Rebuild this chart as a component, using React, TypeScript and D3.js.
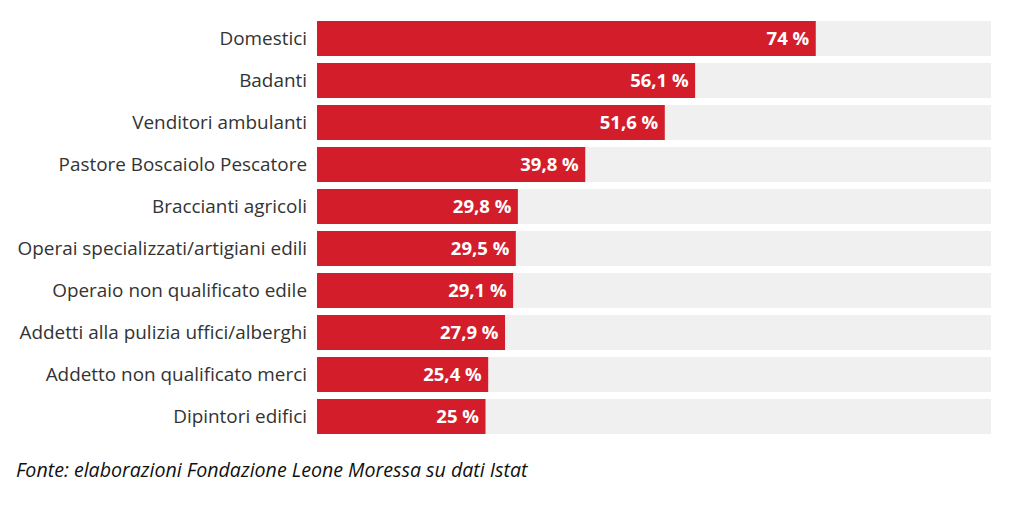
import React from "react";
import * as d3 from "d3";

const categories = [
  "Domestici",
  "Badanti",
  "Venditori ambulanti",
  "Pastore Boscaiolo Pescatore",
  "Braccianti agricoli",
  "Operai specializzati/artigiani edili",
  "Operaio non qualificato edile",
  "Addetti alla pulizia uffici/alberghi",
  "Addetto non qualificato merci",
  "Dipintori edifici",
];
const values = [74, 56.1, 51.6, 39.8, 29.8, 29.5, 29.1, 27.9, 25.4, 25];
const valueLabels = ["74 %", "56,1 %", "51,6 %", "39,8 %", "29,8 %", "29,5 %", "29,1 %", "27,9 %", "25,4 %", "25 %"];
const source = "Fonte: elaborazioni Fondazione Leone Moressa su dati Istat";

const W = 1024;
const H = 509;

export default function App() {
  const x = d3.scaleLinear().domain([0, 100]).range([317, 991]);
  const y = d3.scaleBand<string>().domain(categories).range([21, 434]).paddingInner(7 / 42).paddingOuter(0);
  const bw = y.bandwidth();
  const font = "'Open Sans', 'Noto Sans', sans-serif";
  return (
    <svg width={W} height={H} style={{ position: "absolute", left: 0, top: 0, background: "#fff" }}>
      {categories.map((c, i) => (
        <g key={c}>
          <rect x={x(0)} y={y(c)} width={x(100) - x(0)} height={bw} fill="#f0f0f0" />
          <rect x={x(0)} y={y(c)} width={x(values[i]) - x(0)} height={bw} fill="#d41d2b" />
          <text x={307} y={(y(c) as number) + bw / 2} dy="0.36em" textAnchor="end" fontFamily={font} fontSize={18.9} fill="#333">
            {c}
          </text>
          <text x={x(values[i]) - 6.5} y={(y(c) as number) + bw / 2} dy="0.36em" textAnchor="end" fontFamily={font} fontSize={18.5} fontWeight="bold" fill="#fff">
            {valueLabels[i]}
          </text>
        </g>
      ))}
      <text x={16} y={476.5} fontFamily={font} fontStyle="italic" fontSize={19.6} fill="#111">
        {source}
      </text>
    </svg>
  );
}
